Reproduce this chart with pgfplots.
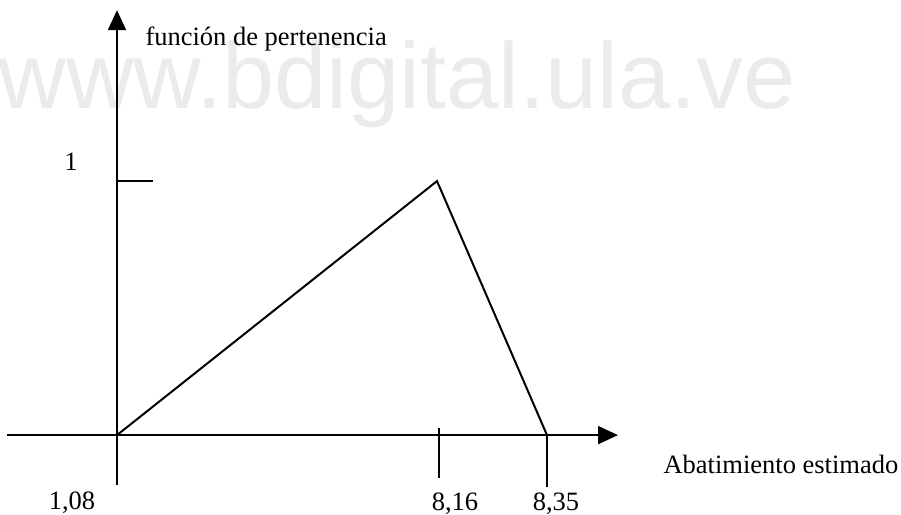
\documentclass[border=0pt]{standalone}
\usepackage{fontspec}
\setmainfont{Liberation Serif}
\newfontfamily\wmfont{Liberation Sans}
\usepackage{pgfplots}
\pgfplotsset{compat=1.18}
\usetikzlibrary{arrows.meta}
\definecolor{Wmark}{RGB}{235,235,235}

\begin{document}
\begin{tikzpicture}
\begin{axis}[
    set layers,
    x=0.4pt, y=101.6pt,
    xmin=-110, xmax=501,
    ymin=-0.197, ymax=1.673,
    axis lines=middle,
    axis line style={line width=0.8pt},
    every inner x axis line/.append style={-{Triangle[length=8pt,width=7.2pt]}},
    every inner y axis line/.append style={-{Triangle[length=8pt,width=7.2pt]}},
    xtick=\empty, ytick=\empty,
    clip=false,
]
% watermark behind everything
\begin{pgfonlayer}{axis background}
\node[anchor=base west, inner sep=0pt, text=Wmark, font=\wmfont\fontsize{37.5pt}{40pt}\selectfont]
    at (axis cs:-119,1.287) {www.bdigital.ula.ve};
\end{pgfonlayer}

% membership function
\addplot[black, line width=0.8pt, line join=miter] coordinates {(0,0) (320,1) (430,0)};

% ticks
\draw[line width=0.6pt] (axis cs:322,0.028) -- (axis cs:322,-0.169);
\draw[line width=0.6pt] (axis cs:430,0) -- (axis cs:430,-0.205);
\draw[line width=0.6pt] (axis cs:0,1) -- (axis cs:36,1);

% labels
\tikzset{lbl/.style={inner sep=0pt, font=\fontsize{10.6pt}{12pt}\selectfont}}
\node[lbl, anchor=base] at (axis cs:-46,1.043) {1};
\node[lbl, anchor=base west] at (axis cs:28,1.535) {función de pertenencia};
\node[lbl, anchor=base west] at (axis cs:546,-0.150) {Abatimiento estimado};
\node[lbl, anchor=base] at (axis cs:-45,-0.291) {1,08};
\node[lbl, anchor=base] at (axis cs:338,-0.295) {8,16};
\node[lbl, anchor=base] at (axis cs:439,-0.295) {8,35};

\coordinate (BL) at (axis cs:-117,-0.311);
\coordinate (TR) at (axis cs:784,1.713);
\end{axis}
\pgfresetboundingbox
\path[use as bounding box] (BL) rectangle (TR);
\end{tikzpicture}
\end{document}
